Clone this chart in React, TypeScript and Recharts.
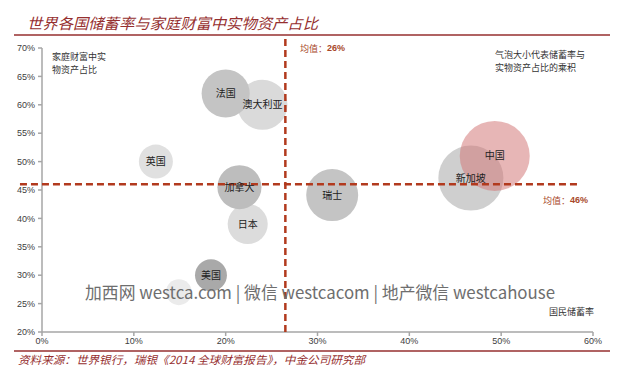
import React from "react";
import {
  LabelList,
  ReferenceLine,
  Scatter,
  ScatterChart,
  XAxis,
  YAxis,
  ZAxis,
} from "recharts";

// 国家 / 国民储蓄率(%) / 实物资产占比(%) / 气泡 = 储蓄率×实物资产占比
const COUNTRIES = ["澳大利亚", "法国", "英国", "日本", "加拿大", "瑞士", "美国", "", "新加坡", "中国"];
const SAVINGS_RATE = [24.0, 20.0, 12.4, 22.4, 21.5, 31.6, 18.4, 14.9, 46.7, 49.3];
const REAL_ASSET_SHARE = [60.0, 62.0, 50.0, 39.0, 45.5, 44.1, 30.0, 27.0, 47.1, 51.0];
const BUBBLE_SIZE = [12.8, 11.8, 5.9, 8.2, 9.9, 13.8, 5.2, 3.4, 21.6, 25.0];

const X_TICKS = [0, 10, 20, 30, 40, 50, 60];
const Y_TICKS = [20, 25, 30, 35, 40, 45, 50, 55, 60, 65, 70];

const MEAN_SAVINGS = 26.5;
const MEAN_REAL_SHARE = 46;

const FILLS = ["#dadada", "#c4c4c4", "#e0e0e0", "#dcdcdc", "#bdbdbd", "#c4c4c4", "#a9a9a9", "#ebebeb", "#cfcfcf", "rgba(212,122,122,0.55)"];

const data = COUNTRIES.map((name, i) => ({
  name,
  x: SAVINGS_RATE[i],
  y: REAL_ASSET_SHARE[i],
  z: BUBBLE_SIZE[i],
  fill: FILLS[i],
}));

const CJK = '"Noto Sans CJK SC", sans-serif';
const LATIN = '"Liberation Sans", Arial, sans-serif';
const RED = "#962f2f";
const BROWN = "#a8482a";
const DASH = "#b23a1e";

function Bubble(props: any) {
  const { cx, cy, width, size, payload } = props;
  const r = width ? width / 2 : Math.sqrt((size || 0) / Math.PI);
  return <circle cx={cx} cy={cy} r={r} fill={payload.fill} />;
}

export default function App() {
  return (
    <div style={{ position: "absolute", left: 0, top: 0, width: 640, height: 373, background: "#fff" }}>
      <ScatterChart width={640} height={373} margin={{ top: 48, right: 47, bottom: 21, left: 8 }}>
        <XAxis
          type="number"
          dataKey="x"
          domain={[0, 60]}
          ticks={X_TICKS}
          tickFormatter={(v) => `${v}%`}
          height={20}
          tickSize={4}
          tickMargin={2}
          stroke="#a6a6a6"
          strokeWidth={1.5}
          tick={{ fill: "#404040", fontSize: 9, fontFamily: LATIN }}
        />
        <YAxis
          type="number"
          dataKey="y"
          domain={[20, 70]}
          ticks={Y_TICKS}
          tickFormatter={(v) => `${v}%`}
          width={34}
          tickSize={4}
          tickMargin={3}
          stroke="#a6a6a6"
          strokeWidth={1.5}
          tick={{ fill: "#404040", fontSize: 9, fontFamily: LATIN }}
        />
        <ZAxis type="number" dataKey="z" domain={[0, 30]} range={[0, Math.PI * 49 * 30]} />
        <Scatter data={data} shape={Bubble} isAnimationActive={false}>
          <LabelList dataKey="name" position="center" fill="#222" fontSize={10} fontFamily={CJK} />
        </Scatter>
        <ReferenceLine
          segment={[{ x: MEAN_SAVINGS, y: 71.6 }, { x: MEAN_SAVINGS, y: 19.4 }]}
          ifOverflow="visible"
          stroke={DASH}
          strokeWidth={2.5}
          strokeDasharray="7 4"
          zIndex={700}
        />
        <ReferenceLine
          segment={[{ x: -2.4, y: MEAN_REAL_SHARE }, { x: 58.5, y: MEAN_REAL_SHARE }]}
          ifOverflow="visible"
          stroke={DASH}
          strokeWidth={2.5}
          strokeDasharray="7 4"
          zIndex={700}
        />
      </ScatterChart>
      <svg width={640} height={373} style={{ position: "absolute", left: 0, top: 0, pointerEvents: "none" }}>
        <text x={27} y={22} dominantBaseline="central" fontSize={15} fontStyle="italic" fontFamily={CJK} fill={RED} textLength={291} lengthAdjust="spacingAndGlyphs">
          世界各国储蓄率与家庭财富中实物资产占比
        </text>
        <line x1={14} x2={610} y1={35} y2={35} stroke={RED} strokeWidth={1.6} />
        <line x1={14} x2={610} y1={351} y2={351} stroke={RED} strokeWidth={1.4} />
        <text x={18} y={359} dominantBaseline="central" fontSize={11} fontStyle="italic" fontFamily={CJK} fill={RED} textLength={347} lengthAdjust="spacingAndGlyphs">
          资料来源：世界银行，瑞银《2014 全球财富报告》，中金公司研究部
        </text>
        <g fontSize={9} fontFamily={CJK} fill="#333">
          <text x={52} y={56} dominantBaseline="central">家庭财富中实</text>
          <text x={52} y={69} dominantBaseline="central">物资产占比</text>
          <text x={495} y={54} dominantBaseline="central">气泡大小代表储蓄率与</text>
          <text x={495} y={67} dominantBaseline="central">实物资产占比的乘积</text>
          <text x={549} y={311} dominantBaseline="central">国民储蓄率</text>
        </g>
        <g fontSize={9} fontFamily={CJK} fill={BROWN}>
          <text x={300} y={48} dominantBaseline="central">
            均值：<tspan fontFamily={LATIN} fontWeight="bold">26%</tspan>
          </text>
          <text x={543} y={200} dominantBaseline="central">
            均值：<tspan fontFamily={LATIN} fontWeight="bold">46%</tspan>
          </text>
        </g>
        <text x={85} y={291} dominantBaseline="central" fontSize={17} fontFamily={CJK} fill="#6e6e6e" textLength={470} lengthAdjust="spacingAndGlyphs">
          加西网 westca.com | 微信 westcacom | 地产微信 westcahouse
        </text>
      </svg>
    </div>
  );
}
